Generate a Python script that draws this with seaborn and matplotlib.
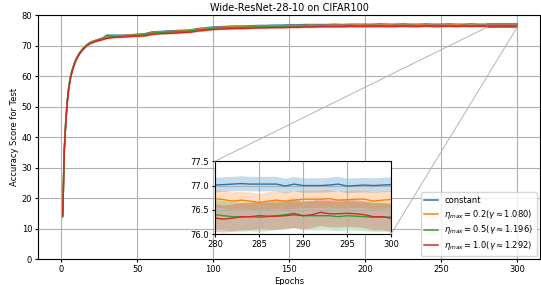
import numpy as np
import pandas as pd
import seaborn as sns
import matplotlib
matplotlib.use("Agg")
import matplotlib.pyplot as plt
from matplotlib.patches import Rectangle, ConnectionPatch

epochs = (list(range(1, 11)) + list(range(12, 31, 2))
          + list(range(35, 276, 5)) + list(range(280, 301)))

labels = [
    "constant",
    r"$\eta_{max}=0.2(\gamma\approx1.080)$",
    r"$\eta_{max}=0.5(\gamma\approx1.196)$",
    r"$\eta_{max}=1.0(\gamma\approx1.292)$",
]

acc_constant = [
    14.2, 36.0, 45.5, 52.0, 56.6, 59.6, 61.6, 63.3, 64.7, 65.8,
    67.6, 68.9, 69.9, 70.7, 71.3, 71.6, 72.0, 72.3, 72.7, 73.4,
    73.4, 73.4, 73.5, 73.7, 73.9, 74.5, 74.6, 74.8, 74.9, 75.0,
    75.1, 75.6, 75.8, 76.1, 76.2, 76.3, 76.4, 76.4, 76.5, 76.6,
    76.6, 76.7, 76.7, 76.8, 76.8, 76.9, 76.9, 76.9, 76.9, 77.0,
    76.9, 77.0, 77.0, 77.0, 77.0, 77.1, 77.0, 77.0, 77.1, 77.0,
    77.0, 77.1, 77.0, 77.0, 77.1, 77.0, 77.0, 77.1, 77.0,
    77.01, 77.02, 77.03, 77.04, 77.03, 77.03, 77.03, 77.03, 76.99, 77.03,
    77.00, 77.00, 77.00, 77.01, 77.03, 76.99, 77.00, 77.01, 77.00, 77.01, 77.02,
]
acc_eta02 = [
    14.0, 35.5, 45.0, 51.8, 56.4, 59.4, 61.5, 63.2, 64.5, 65.7,
    67.5, 68.8, 69.8, 70.6, 71.2, 71.6, 71.9, 72.2, 72.5, 72.8,
    73.2, 73.3, 73.4, 73.5, 73.7, 74.3, 74.5, 74.6, 74.7, 74.8,
    75.0, 75.4, 75.6, 75.9, 76.0, 76.1, 76.2, 76.2, 76.3, 76.4,
    76.4, 76.5, 76.5, 76.6, 76.6, 76.6, 76.7, 76.6, 76.7, 76.7,
    76.7, 76.7, 76.8, 76.7, 76.7, 76.7, 76.8, 76.7, 76.7, 76.7,
    76.8, 76.7, 76.7, 76.7, 76.7, 76.8, 76.7, 76.7, 76.7,
    76.73, 76.71, 76.68, 76.70, 76.68, 76.65, 76.68, 76.70, 76.68, 76.70,
    76.72, 76.72, 76.72, 76.73, 76.70, 76.71, 76.72, 76.72, 76.68, 76.70, 76.71,
]
acc_eta05 = [
    13.8, 35.2, 44.8, 51.6, 56.2, 59.3, 61.4, 63.0, 64.4, 65.6,
    67.4, 68.7, 69.7, 70.5, 71.0, 71.4, 71.7, 72.0, 72.3, 72.6,
    73.0, 73.1, 73.2, 73.4, 73.5, 74.1, 74.3, 74.4, 74.5, 74.6,
    74.8, 75.2, 75.4, 75.7, 75.8, 75.9, 76.0, 76.0, 76.1, 76.1,
    76.2, 76.2, 76.3, 76.3, 76.3, 76.4, 76.4, 76.4, 76.4, 76.4,
    76.4, 76.5, 76.4, 76.4, 76.4, 76.5, 76.4, 76.4, 76.4, 76.4,
    76.4, 76.5, 76.4, 76.4, 76.4, 76.4, 76.4, 76.4, 76.4,
    76.40, 76.38, 76.36, 76.35, 76.36, 76.35, 76.36, 76.38, 76.40, 76.43,
    76.38, 76.38, 76.38, 76.38, 76.36, 76.38, 76.37, 76.36, 76.35, 76.35, 76.35,
]
acc_eta10 = [
    14.5, 35.0, 44.5, 51.3, 56.0, 59.0, 61.2, 62.9, 64.3, 65.5,
    67.3, 68.6, 69.6, 70.4, 70.9, 71.3, 71.6, 71.8, 72.1, 72.4,
    72.7, 72.8, 73.0, 73.1, 73.2, 73.7, 73.9, 74.0, 74.1, 74.3,
    74.4, 74.8, 75.0, 75.3, 75.4, 75.5, 75.6, 75.6, 75.7, 75.8,
    75.8, 75.9, 75.9, 76.0, 76.0, 76.1, 76.1, 76.2, 76.2, 76.2,
    76.2, 76.3, 76.3, 76.3, 76.3, 76.3, 76.3, 76.3, 76.4, 76.3,
    76.3, 76.4, 76.3, 76.3, 76.4, 76.3, 76.4, 76.3, 76.4,
    76.33, 76.31, 76.33, 76.36, 76.36, 76.38, 76.37, 76.37, 76.38, 76.40,
    76.38, 76.40, 76.45, 76.42, 76.42, 76.43, 76.42, 76.40, 76.36, 76.36, 76.33,
]
# spread over runs (half width of the shaded band)
spread = [0.15, 0.18, 0.30, 0.28]

series = [acc_constant, acc_eta02, acc_eta05, acc_eta10]
df = pd.concat([
    pd.DataFrame({"epoch": epochs, "acc": vals, "sd": sd, "label": lab})
    for vals, sd, lab in zip(series, spread, labels)
], ignore_index=True)

colors = sns.color_palette("tab10", 4)
plt.rcParams.update({
    "font.size": 6,
    "xtick.major.size": 2.5,
    "ytick.major.size": 2.5,
    "xtick.major.pad": 2,
    "ytick.major.pad": 2,
    "axes.labelpad": 2,
})

fig = plt.figure(figsize=(5.41, 2.85), dpi=100)
ax = fig.add_axes([0.071, 0.091, 0.927, 0.856])


def draw(axis, lw):
    sns.lineplot(data=df, x="epoch", y="acc", hue="label", hue_order=labels,
                 palette=colors, ax=axis, linewidth=lw, legend=(axis is ax))
    for lab, c in zip(labels, colors):
        d = df[df["label"] == lab]
        axis.fill_between(d["epoch"], d["acc"] - d["sd"], d["acc"] + d["sd"],
                          color=c, alpha=0.25, linewidth=0)


draw(ax, 1.1)
ax.set_ylim(0, 80)
ax.set_xlim(-15, 315)
ax.grid(True, color="#b0b0b0", linewidth=0.8)
ax.set_xlabel("Epochs")
ax.set_ylabel("Accuracy Score for Test")
ax.set_title("Wide-ResNet-28-10 on CIFAR100", fontsize=7, pad=3)
ax.legend(loc="lower right", fontsize=6, labelspacing=0.35, handlelength=1.6,
          borderaxespad=0.4)

axins = ax.inset_axes([0.352, 0.102, 0.351, 0.299])
draw(axins, 1.0)
axins.set_xlim(280, 300)
axins.set_ylim(76.0, 77.5)
axins.set_xticks([280, 285, 290, 295, 300])
axins.set_yticks([76.0, 76.5, 77.0, 77.5])
axins.grid(True, color="#b0b0b0", linewidth=0.8)
axins.set_xlabel("")
axins.set_ylabel("")

ax.add_patch(Rectangle((280, 76.0), 20, 1.5, fill=False, edgecolor="0.5",
                       linewidth=0.8, zorder=5))
for pa, pb in [((280, 76.0), (280, 77.5)), ((300, 76.0), (300, 76.0))]:
    con = ConnectionPatch(xyA=pa, coordsA=ax.transData, xyB=pb,
                          coordsB=axins.transData, color="0.7", linewidth=0.7)
    fig.add_artist(con)

fig.savefig("out.png", dpi=100)
